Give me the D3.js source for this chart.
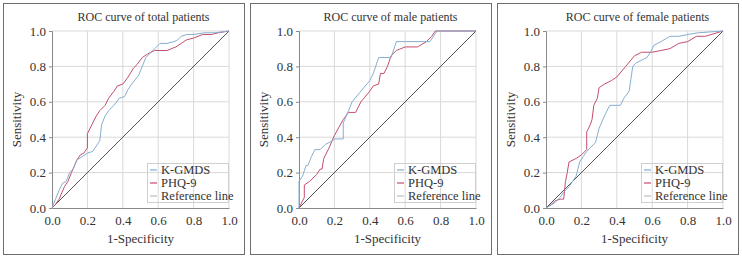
<!DOCTYPE html>
<html>
<head>
<meta charset="utf-8">
<script src="https://cdn.jsdelivr.net/npm/d3@7"></script>
<style>
  body { margin: 0; background: #fff; }
  svg text { font-family: 'Liberation Serif', 'Times New Roman', serif !important; fill: #333; }
</style>
</head>
<body>
<svg id="drawing_region"></svg>
<script>
// panel titles
const titles = ["ROC curve of total patients", "ROC curve of male patients", "ROC curve of female patients"];
const tickValues = [0, 0.2, 0.4, 0.6, 0.8, 1.0];
const legendLabels = ["K-GMDS", "PHQ-9", "Reference line"];

// [1-specificity, sensitivity]
const totalKgmds = [[0,0],[0.02,0.05],[0.04,0.1],[0.06,0.14],[0.08,0.15],[0.1,0.2],[0.12,0.22],[0.14,0.27],[0.17,0.29],[0.2,0.31],[0.23,0.32],[0.25,0.35],[0.27,0.38],[0.28,0.47],[0.3,0.52],[0.32,0.55],[0.35,0.58],[0.38,0.62],[0.41,0.63],[0.43,0.67],[0.45,0.7],[0.49,0.75],[0.51,0.8],[0.53,0.85],[0.56,0.88],[0.59,0.91],[0.61,0.93],[0.65,0.93],[0.69,0.94],[0.71,0.95],[0.73,0.97],[0.76,0.98],[0.8,0.98],[0.86,0.99],[0.92,0.99],[1,1]];
const totalPhq = [[0,0],[0.02,0.02],[0.04,0.05],[0.07,0.12],[0.09,0.15],[0.11,0.2],[0.14,0.27],[0.16,0.3],[0.18,0.31],[0.2,0.34],[0.2,0.42],[0.23,0.48],[0.25,0.52],[0.27,0.55],[0.3,0.58],[0.32,0.62],[0.35,0.66],[0.37,0.69],[0.4,0.7],[0.43,0.74],[0.46,0.79],[0.48,0.81],[0.51,0.85],[0.54,0.87],[0.58,0.89],[0.61,0.89],[0.65,0.89],[0.7,0.91],[0.73,0.93],[0.76,0.95],[0.8,0.96],[0.85,0.98],[0.9,0.98],[0.94,0.99],[1,1]];

const maleKgmds = [[0,0],[0,0.15],[0.02,0.18],[0.04,0.24],[0.05,0.24],[0.07,0.29],[0.09,0.33],[0.12,0.33],[0.15,0.36],[0.19,0.38],[0.2,0.39],[0.25,0.39],[0.25,0.48],[0.28,0.55],[0.3,0.6],[0.35,0.66],[0.4,0.72],[0.42,0.76],[0.45,0.85],[0.52,0.85],[0.55,0.94],[0.6,0.94],[0.74,0.94],[0.78,1],[1,1]];
const malePhq = [[0,0],[0.02,0.04],[0.03,0.06],[0.03,0.13],[0.06,0.15],[0.1,0.19],[0.12,0.22],[0.13,0.22],[0.14,0.28],[0.17,0.34],[0.2,0.41],[0.25,0.5],[0.28,0.54],[0.32,0.54],[0.35,0.6],[0.4,0.66],[0.42,0.69],[0.45,0.7],[0.46,0.76],[0.48,0.76],[0.5,0.8],[0.52,0.86],[0.55,0.89],[0.6,0.91],[0.67,0.91],[0.72,0.94],[0.75,0.97],[0.77,1],[1,1]];

const femaleKgmds = [[0,0],[0.05,0.03],[0.08,0.06],[0.1,0.09],[0.13,0.12],[0.17,0.18],[0.19,0.26],[0.21,0.29],[0.23,0.32],[0.28,0.37],[0.3,0.45],[0.33,0.52],[0.36,0.58],[0.42,0.58],[0.44,0.62],[0.47,0.66],[0.49,0.8],[0.51,0.82],[0.55,0.84],[0.57,0.85],[0.59,0.88],[0.61,0.92],[0.65,0.94],[0.7,0.97],[0.75,0.97],[0.8,0.98],[0.86,0.99],[1,1]];
const femalePhq = [[0,0],[0.03,0.02],[0.05,0.04],[0.08,0.05],[0.1,0.05],[0.11,0.15],[0.12,0.2],[0.13,0.26],[0.17,0.28],[0.2,0.3],[0.23,0.33],[0.23,0.43],[0.25,0.47],[0.26,0.5],[0.27,0.58],[0.29,0.62],[0.3,0.68],[0.33,0.7],[0.37,0.72],[0.4,0.74],[0.45,0.8],[0.5,0.86],[0.54,0.88],[0.6,0.88],[0.65,0.89],[0.7,0.9],[0.75,0.93],[0.8,0.94],[0.85,0.97],[0.9,0.97],[1,1]];

const reference = [[0,0],[1,1]];

const panels = [
  { title: titles[0], kgmds: totalKgmds, phq: totalPhq },
  { title: titles[1], kgmds: maleKgmds, phq: malePhq },
  { title: titles[2], kgmds: femaleKgmds, phq: femalePhq },
];

const colors = { kgmds: '#86aed0', phq: '#c34f6e', ref: '#bdbdbd', diag: '#555' };

const svg = d3.select('#drawing_region')
  .attr('width', 742)
  .attr('height', 259);

const panelX = [3, 250, 497];
const panelW = 242, panelH = 252, panelY = 3;
const margin = { left: 49, top: 28 };
const size = 177;

const x = d3.scaleLinear().domain([0, 1]).range([0, size]);
const y = d3.scaleLinear().domain([0, 1]).range([size, 0]);
const line = d3.line().x(d => x(d[0])).y(d => y(d[1]));

panels.forEach((p, i) => {
  const g = svg.append('g').attr('transform', `translate(${panelX[i]}, ${panelY})`);

  g.append('rect')
    .attr('x', 0.5).attr('y', 0.5)
    .attr('width', panelW - 1).attr('height', panelH - 1)
    .attr('fill', 'none').attr('stroke', '#6e6e6e');

  const chart = g.append('g').attr('transform', `translate(${margin.left}, ${margin.top})`);

  // grid
  chart.selectAll('.gx').data(tickValues.slice(1)).enter().append('line')
    .attr('x1', d => x(d)).attr('x2', d => x(d))
    .attr('y1', 0).attr('y2', size)
    .attr('stroke', '#d9d9d9');
  chart.selectAll('.gy').data(tickValues.slice(1)).enter().append('line')
    .attr('x1', 0).attr('x2', size)
    .attr('y1', d => y(d)).attr('y2', d => y(d))
    .attr('stroke', '#d9d9d9');

  // axes
  const xaxis = d3.axisBottom(x).tickValues(tickValues).tickFormat(d3.format('.1f')).tickSize(0).tickPadding(8);
  const yaxis = d3.axisLeft(y).tickValues(tickValues).tickFormat(d3.format('.1f')).tickSize(3).tickPadding(3);

  const xg = chart.append('g').attr('transform', `translate(0, ${size})`).call(xaxis);
  const yg = chart.append('g').call(yaxis);
  [xg, yg].forEach(a => {
    a.attr('font-family', null);
    a.select('.domain').attr('stroke', '#8a8a8a');
    a.selectAll('line').attr('stroke', '#8a8a8a');
    a.selectAll('text').attr('font-size', 13).attr('fill', '#333');
  });

  // diagonal
  chart.append('path').datum(reference)
    .attr('d', line).attr('fill', 'none')
    .attr('stroke', colors.diag).attr('stroke-width', 1);

  chart.append('path').datum(p.phq)
    .attr('d', line).attr('fill', 'none')
    .attr('stroke', colors.phq).attr('stroke-width', 1);

  chart.append('path').datum(p.kgmds)
    .attr('d', line).attr('fill', 'none')
    .attr('stroke', colors.kgmds).attr('stroke-width', 1);

  // title
  g.append('text')
    .attr('x', margin.left + size / 2 + 3).attr('y', 18)
    .attr('text-anchor', 'middle').attr('font-size', 12)
    .text(p.title);

  g.append('text')
    .attr('x', margin.left + size / 2).attr('y', 240)
    .attr('text-anchor', 'middle').attr('font-size', 13)
    .text('1-Specificity');

  g.append('text')
    .attr('transform', `translate(18, ${margin.top + size / 2}) rotate(-90)`)
    .attr('text-anchor', 'middle').attr('font-size', 13)
    .text('Sensitivity');

  // legend
  const lg = chart.append('g').attr('transform', `translate(95, 132)`);
  lg.append('rect')
    .attr('x', 0.5).attr('y', 0.5)
    .attr('width', size - 95 - 1).attr('height', 39)
    .attr('fill', 'none').attr('stroke', '#cfcfcf');
  const lcols = [colors.kgmds, colors.phq, colors.ref];
  legendLabels.forEach((lab, j) => {
    const yy = 7 + j * 13;
    lg.append('line')
      .attr('x1', 3).attr('x2', 10).attr('y1', yy).attr('y2', yy)
      .attr('stroke', lcols[j]).attr('stroke-width', 1.2);
    lg.append('text')
      .attr('x', 14).attr('y', yy + 4)
      .attr('font-size', 12.5)
      .text(lab);
  });
});
</script>
</body>
</html>
